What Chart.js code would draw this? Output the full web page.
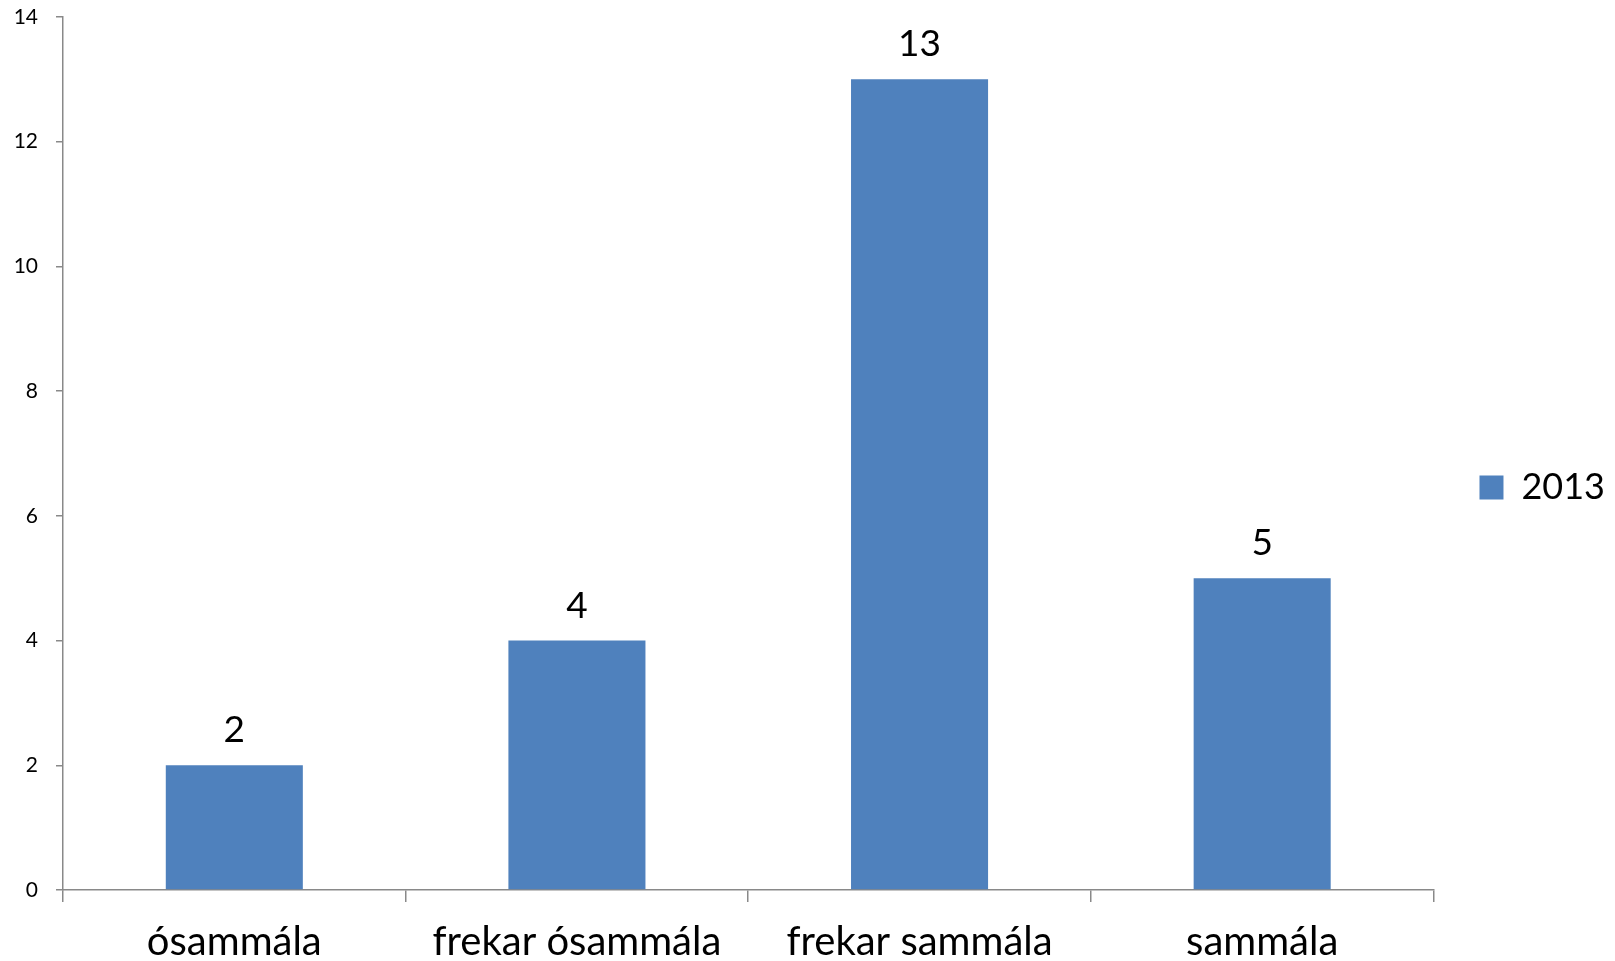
<!DOCTYPE html>
<html>
<head>
<meta charset="utf-8">
<script src="https://cdn.jsdelivr.net/npm/chart.js@4"></script>
<style>
  html, body { margin: 0; padding: 0; background: #fff; }
  #wrap { width: 1615px; height: 961px; }
</style>
</head>
<body>
<div id="wrap"><canvas id="c" width="1615" height="961"></canvas></div>
<script>
const categories = ["ósammála", "frekar ósammála", "frekar sammála", "sammála"];
const seriesName = "2013";
const values = [2, 4, 13, 5];
const yTicks = [0, 2, 4, 6, 8, 10, 12, 14];

const FONT = "Lato, 'Open Sans', sans-serif";
const AXIS = "#898989";

const valueLabels = {
  id: 'valueLabels',
  afterDatasetsDraw(chart) {
    const ctx = chart.ctx;
    const meta = chart.getDatasetMeta(0);
    ctx.save();
    ctx.font = "37px " + FONT;
    ctx.fillStyle = "#000";
    ctx.textAlign = "center";
    ctx.textBaseline = "alphabetic";
    meta.data.forEach((bar, i) => {
      ctx.fillText(String(chart.data.datasets[0].data[i]), bar.x, bar.y - 23);
    });
    ctx.restore();
  }
};

new Chart(document.getElementById('c'), {
  type: 'bar',
  data: {
    labels: categories,
    datasets: [{
      label: seriesName,
      data: values,
      backgroundColor: '#4F81BD',
      borderWidth: 0,
      barPercentage: 0.4,
      categoryPercentage: 1.0
    }]
  },
  options: {
    responsive: false,
    animation: false,
    layout: { padding: { top: 14, left: 0, right: 0, bottom: 0 } },
    plugins: {
      legend: {
        position: 'right',
        labels: {
          boxWidth: 24,
          boxHeight: 24,
          padding: 7,
          color: '#000',
          font: { size: 36, family: FONT }
        }
      },
      tooltip: { enabled: false }
    },
    scales: {
      x: {
        grid: { display: true, drawOnChartArea: false, drawTicks: true, tickLength: 12, color: AXIS, lineWidth: 1.5, offset: true },
        border: { display: true, color: AXIS, width: 1.5 },
        ticks: { color: '#000', font: { size: 40, family: FONT }, padding: 16, maxRotation: 0, autoSkip: false },
        afterFit(s) { s.height = 71; }
      },
      y: {
        min: 0, max: 14,
        afterBuildTicks(s) { s.ticks = yTicks.map(v => ({ value: v })); },
        grid: { display: true, drawOnChartArea: false, drawTicks: true, tickLength: 7, color: AXIS, lineWidth: 1.5 },
        border: { display: true, color: AXIS, width: 1.5 },
        ticks: { color: '#000', font: { size: 21, family: FONT }, padding: 18 },
        afterFit(s) { s.width = 63; s.paddingTop = 17; s.paddingBottom = 0; }
      },
      gap: {
        position: 'right',
        display: true,
        grid: { display: false },
        border: { display: false },
        ticks: { display: false },
        afterFit(s) { s.width = 39; }
      }
    }
  },
  plugins: [valueLabels]
});
</script>
</body>
</html>
